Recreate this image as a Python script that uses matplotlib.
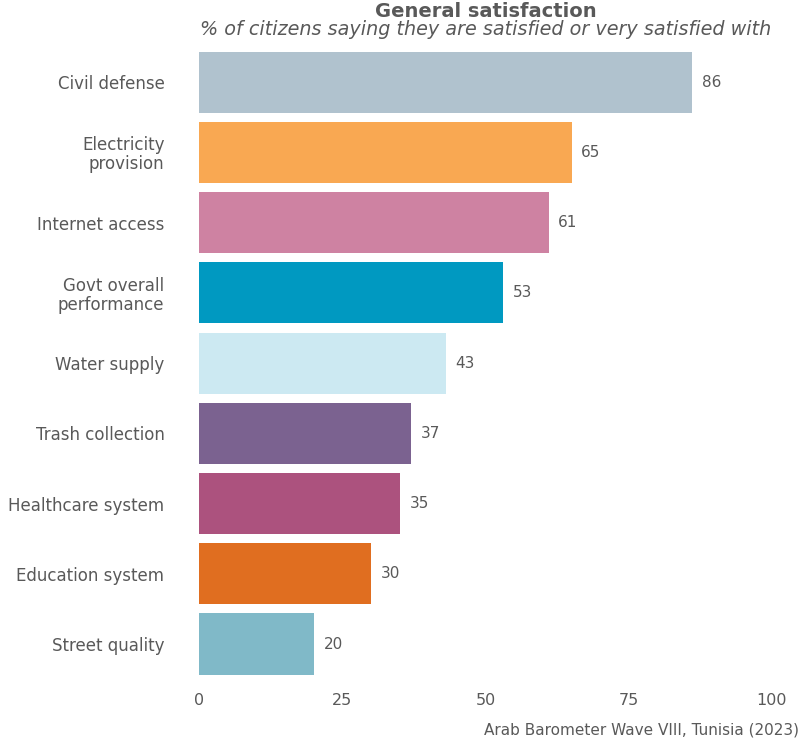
import matplotlib
matplotlib.use("Agg")
from matplotlib import pyplot as plt

categories = ["Civil defense", "Electricity\nprovision", "Internet access",
              "Govt overall\nperformance", "Water supply", "Trash collection",
              "Healthcare system", "Education system", "Street quality"]
values = [86, 65, 61, 53, 43, 37, 35, 30, 20]
colors = ["#B0C2CE", "#F9A852", "#CE82A2", "#0099C1", "#CCE9F2",
          "#7B6290", "#AC527E", "#E06E20", "#80B9C8"]
xticks = [0, 25, 50, 75, 100]

txt = "#595959"
plt.rcParams['font.family'] = ['DejaVu Sans']

fig = plt.figure(figsize=(8, 7.42), dpi=100)
ax = fig.add_axes([0.249, 0.0847, 0.716, 0.852])

ypos = list(range(len(categories)))
ax.barh(ypos, values, height=0.87, color=colors)
for y, v in zip(ypos, values):
    ax.text(v + 1.7, y, str(v), va='center', ha='left', fontsize=11, color=txt)

ax.set_ylim(len(categories) - 0.5, -0.5)
ax.set_xlim(0, 100)
ax.set_yticks(ypos)
ax.set_yticklabels(categories, fontsize=12, color=txt, linespacing=1.08)
ax.set_xticks(xticks)
ax.set_xticklabels([str(t) for t in xticks], fontsize=11.5, color=txt)
ax.tick_params(axis='both', length=0)
ax.tick_params(axis='x', pad=10)
ax.tick_params(axis='y', pad=25)
for s in ax.spines.values():
    s.set_visible(False)

fig.text(0.607, 0.984, "General satisfaction", ha='center', va='center',
         fontsize=14, fontweight='bold', color=txt)
fig.text(0.607, 0.96, "% of citizens saying they are satisfied or very satisfied with",
         ha='center', va='center', fontsize=13.8, style='italic', color=txt)
fig.text(0.999, 0.016, "Arab Barometer Wave VIII, Tunisia (2023)", ha='right',
         va='center', fontsize=11, color=txt)

plt.savefig("out.png", dpi=100)
